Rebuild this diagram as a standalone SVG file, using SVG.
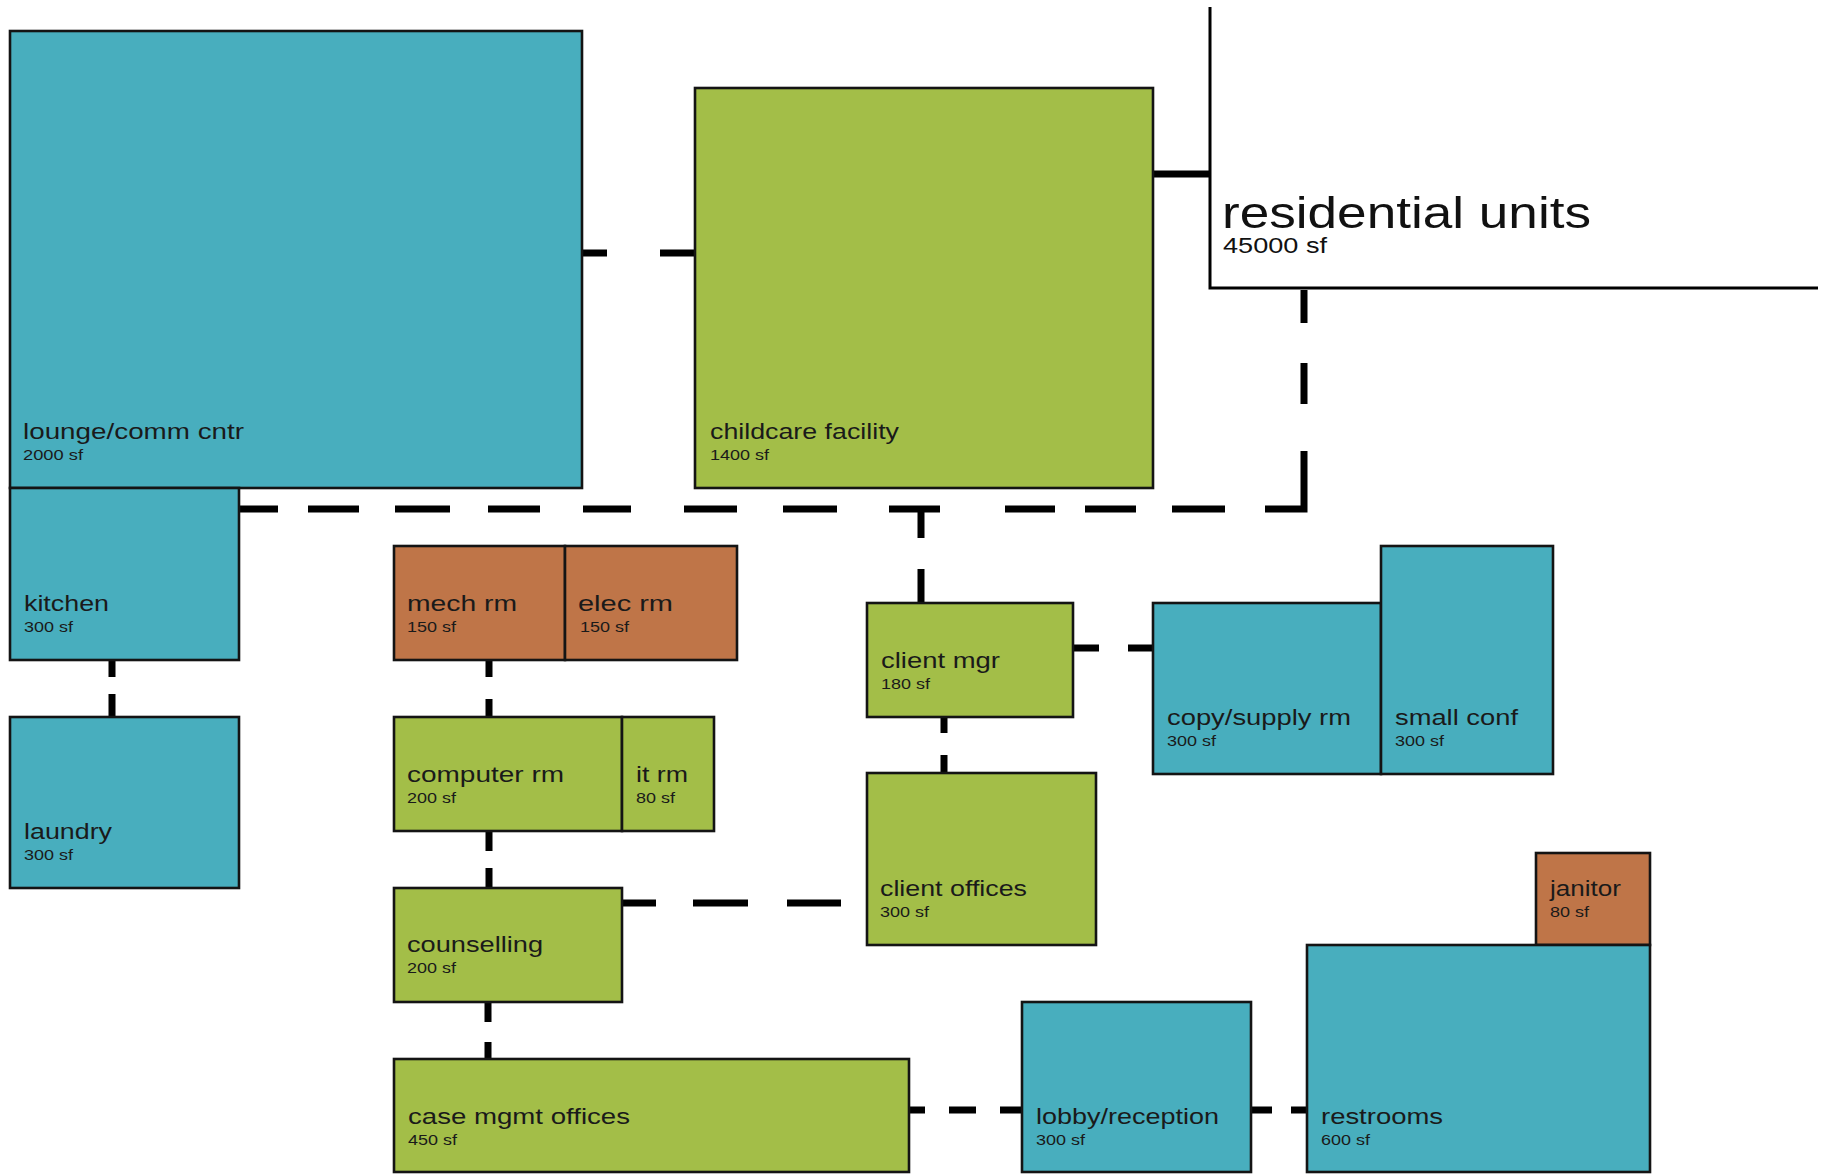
<svg xmlns="http://www.w3.org/2000/svg" width="1832" height="1175" viewBox="0 0 1832 1175">
<style>
.box{stroke:#141414;stroke-width:2.6}
.teal{fill:#48AEBE}
.green{fill:#A3BE48}
.orange{fill:#BF7548}
.lbl{font-family:"Liberation Sans",Arial,sans-serif;font-size:22.5px;fill:#1a1a1a}
.sf{font-family:"Liberation Sans",Arial,sans-serif;font-size:15px;fill:#1a1a1a}
.big{font-family:"Liberation Sans",Arial,sans-serif;font-size:45px;fill:#111}
.mid{font-family:"Liberation Sans",Arial,sans-serif;font-size:22px;fill:#111}
.conn{fill:none;stroke:#000;stroke-width:7;stroke-linecap:butt;stroke-linejoin:miter}
.thin{fill:none;stroke:#000;stroke-width:3}
</style>
<rect width="1832" height="1175" fill="#fff"/>
<g id="connectors">
<path class="conn" d="M582,253H607M660,253H695"/>
<path class="conn" d="M1153,174H1210"/>
<path class="conn" d="M239,509H1304V290" stroke-dasharray="39 30 51 36 55 38 52 43 48 53 53 46 54 52 51 65 50 30 51 36 53 40 97 47 41 40 33"/>
<path class="conn" d="M921,509V538M921,569V603"/>
<path class="conn" d="M112,660V677M112,694V717"/>
<path class="conn" d="M489,660V677M489,699V717"/>
<path class="conn" d="M489,831V851M489,868V888"/>
<path class="conn" d="M488,1002V1022M488,1042V1059"/>
<path class="conn" d="M622,903H656M693,903H748M787,903H841"/>
<path class="conn" d="M1073,648H1099M1128,648H1153"/>
<path class="conn" d="M944,717V733M944,755V773"/>
<path class="conn" d="M909,1110H925M949,1110H976M1000,1110H1022"/>
<path class="conn" d="M1251,1110H1272M1291,1110H1307"/>
</g>
<g id="residential">
<path class="thin" d="M1210,7V288H1818"/>
<text class="big" x="1222" y="228" textLength="369" lengthAdjust="spacingAndGlyphs">residential units</text>
<text class="mid" x="1223" y="253" textLength="104" lengthAdjust="spacingAndGlyphs">45000 sf</text>
</g>
<g id="lounge">
<rect class="box teal" x="10" y="31" width="572" height="457"/>
<text class="lbl" x="23" y="439" textLength="221" lengthAdjust="spacingAndGlyphs">lounge/comm cntr</text>
<text class="sf" x="23" y="460" textLength="60" lengthAdjust="spacingAndGlyphs">2000 sf</text>
</g>
<g id="childcare">
<rect class="box green" x="695" y="88" width="458" height="400"/>
<text class="lbl" x="710" y="439" textLength="189" lengthAdjust="spacingAndGlyphs">childcare facility</text>
<text class="sf" x="710" y="460" textLength="59" lengthAdjust="spacingAndGlyphs">1400 sf</text>
</g>
<g id="kitchen">
<rect class="box teal" x="10" y="488" width="229" height="172"/>
<text class="lbl" x="24" y="611" textLength="85" lengthAdjust="spacingAndGlyphs">kitchen</text>
<text class="sf" x="24" y="632" textLength="49" lengthAdjust="spacingAndGlyphs">300 sf</text>
</g>
<g id="laundry">
<rect class="box teal" x="10" y="717" width="229" height="171"/>
<text class="lbl" x="24" y="839" textLength="88" lengthAdjust="spacingAndGlyphs">laundry</text>
<text class="sf" x="24" y="860" textLength="49" lengthAdjust="spacingAndGlyphs">300 sf</text>
</g>
<g id="mech-rm">
<rect class="box orange" x="394" y="546" width="171" height="114"/>
<text class="lbl" x="407" y="611" textLength="110" lengthAdjust="spacingAndGlyphs">mech rm</text>
<text class="sf" x="407" y="632" textLength="49" lengthAdjust="spacingAndGlyphs">150 sf</text>
</g>
<g id="elec-rm">
<rect class="box orange" x="565" y="546" width="172" height="114"/>
<text class="lbl" x="578" y="611" textLength="95" lengthAdjust="spacingAndGlyphs">elec rm</text>
<text class="sf" x="580" y="632" textLength="49" lengthAdjust="spacingAndGlyphs">150 sf</text>
</g>
<g id="computer-rm">
<rect class="box green" x="394" y="717" width="228" height="114"/>
<text class="lbl" x="407" y="782" textLength="157" lengthAdjust="spacingAndGlyphs">computer rm</text>
<text class="sf" x="407" y="803" textLength="49" lengthAdjust="spacingAndGlyphs">200 sf</text>
</g>
<g id="it-rm">
<rect class="box green" x="622" y="717" width="92" height="114"/>
<text class="lbl" x="636" y="782" textLength="52" lengthAdjust="spacingAndGlyphs">it rm</text>
<text class="sf" x="636" y="803" textLength="39" lengthAdjust="spacingAndGlyphs">80 sf</text>
</g>
<g id="counselling">
<rect class="box green" x="394" y="888" width="228" height="114"/>
<text class="lbl" x="407" y="952" textLength="136" lengthAdjust="spacingAndGlyphs">counselling</text>
<text class="sf" x="407" y="973" textLength="49" lengthAdjust="spacingAndGlyphs">200 sf</text>
</g>
<g id="case-mgmt">
<rect class="box green" x="394" y="1059" width="515" height="113"/>
<text class="lbl" x="408" y="1124" textLength="222" lengthAdjust="spacingAndGlyphs">case mgmt offices</text>
<text class="sf" x="408" y="1145" textLength="49" lengthAdjust="spacingAndGlyphs">450 sf</text>
</g>
<g id="client-mgr">
<rect class="box green" x="867" y="603" width="206" height="114"/>
<text class="lbl" x="881" y="668" textLength="119" lengthAdjust="spacingAndGlyphs">client mgr</text>
<text class="sf" x="881" y="689" textLength="49" lengthAdjust="spacingAndGlyphs">180 sf</text>
</g>
<g id="client-offices">
<rect class="box green" x="867" y="773" width="229" height="172"/>
<text class="lbl" x="880" y="896" textLength="147" lengthAdjust="spacingAndGlyphs">client offices</text>
<text class="sf" x="880" y="917" textLength="49" lengthAdjust="spacingAndGlyphs">300 sf</text>
</g>
<g id="copy-supply">
<rect class="box teal" x="1153" y="603" width="228" height="171"/>
<text class="lbl" x="1167" y="725" textLength="184" lengthAdjust="spacingAndGlyphs">copy/supply rm</text>
<text class="sf" x="1167" y="746" textLength="49" lengthAdjust="spacingAndGlyphs">300 sf</text>
</g>
<g id="small-conf">
<rect class="box teal" x="1381" y="546" width="172" height="228"/>
<text class="lbl" x="1395" y="725" textLength="123" lengthAdjust="spacingAndGlyphs">small conf</text>
<text class="sf" x="1395" y="746" textLength="49" lengthAdjust="spacingAndGlyphs">300 sf</text>
</g>
<g id="janitor">
<rect class="box orange" x="1536" y="853" width="114" height="92"/>
<text class="lbl" x="1550" y="896" textLength="71" lengthAdjust="spacingAndGlyphs">janitor</text>
<text class="sf" x="1550" y="917" textLength="39" lengthAdjust="spacingAndGlyphs">80 sf</text>
</g>
<g id="restrooms">
<rect class="box teal" x="1307" y="945" width="343" height="227"/>
<text class="lbl" x="1321" y="1124" textLength="122" lengthAdjust="spacingAndGlyphs">restrooms</text>
<text class="sf" x="1321" y="1145" textLength="49" lengthAdjust="spacingAndGlyphs">600 sf</text>
</g>
<g id="lobby">
<rect class="box teal" x="1022" y="1002" width="229" height="170"/>
<text class="lbl" x="1036" y="1124" textLength="183" lengthAdjust="spacingAndGlyphs">lobby/reception</text>
<text class="sf" x="1036" y="1145" textLength="49" lengthAdjust="spacingAndGlyphs">300 sf</text>
</g>
</svg>
